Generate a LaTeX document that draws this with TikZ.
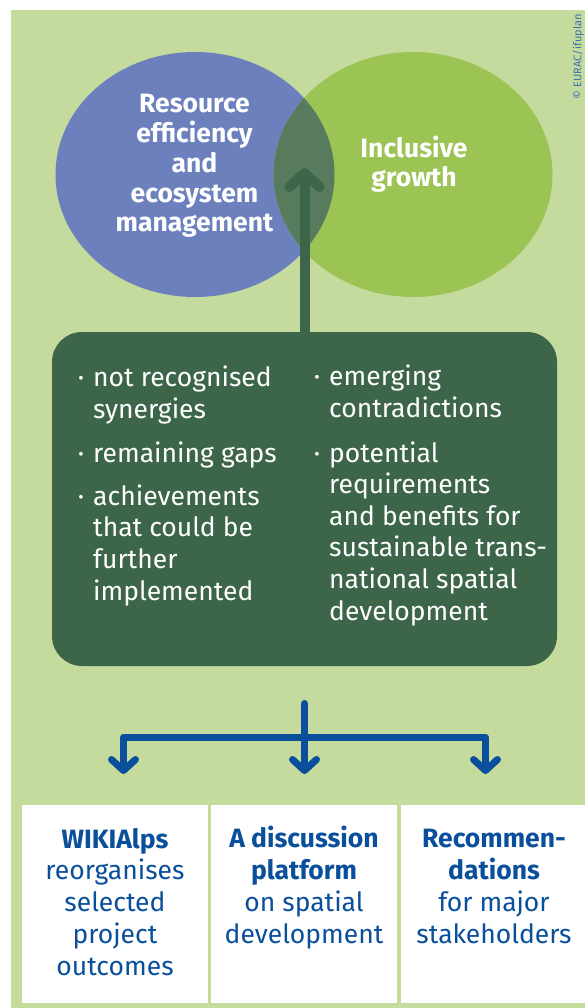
\documentclass[tikz,border=0pt]{standalone}
\usepackage{fontspec}
\setmainfont{Fira Sans}
\usetikzlibrary{positioning,shapes.geometric,arrows.meta}

\definecolor{paper}{HTML}{C5DB9D}
\definecolor{vennblue}{HTML}{6B80BD}
\definecolor{venngreen}{HTML}{9CC454}
\definecolor{vennmix}{HTML}{577B5C}
\definecolor{forest}{HTML}{3D6549}
\definecolor{navy}{HTML}{0A4F9B}

\tikzset{
	venn/.style={ellipse, inner sep=0, minimum width=279pt, minimum height=245pt},
	goal/.style={white, inner sep=0, anchor=base, align=center, font=\bfseries\fontsize{26.5}{29.8}\selectfont},
	item/.style={white, inner sep=0, anchor=base west, align=left, font=\fontsize{26.5}{31.6}\selectfont},
	bullet/.style={white, inner sep=0, anchor=base, font=\fontsize{26.5}{31.6}\selectfont},
	outcome/.style={fill=white, inner sep=0, minimum height=198pt},
	outtext/.style={navy, inner sep=0, anchor=base, align=center, font=\fontsize{26.5}{31.7}\selectfont},
	feed/.style={forest, line width=10pt, line cap=round, -{Straight Barb[round,length=14pt,width=30pt]}},
	flow/.style={navy, line width=7pt, line cap=round, line join=round},
	fork/.style={flow, -{Straight Barb[round,length=11pt,width=24pt]}}
}

\begin{document}
\begin{tikzpicture}[x=1pt, y=-1pt]
\useasboundingbox (0,0) rectangle (585,1008);
\fill[paper] (11,10) rectangle (585,1008);

% the two goals (base = last line)
\node[venn, fill=vennblue] (resource) at (195,174.5) {};
\node[venn, fill=venngreen] (growth) at (413,174.5) {};
\begin{scope}
\clip (resource.center) ellipse [x radius=139.5, y radius=122.5];
\fill[vennmix] (growth.center) ellipse [x radius=139.5, y radius=122.5];
\end{scope}
\node[goal] (resourcetext) at (194.5,232) {Resource\\efficiency\\and\\ecosystem\\management};
\node[goal] (growthtext) at (414,187) {Inclusive\\growth};

% findings
\node[fill=forest, rounded corners=30pt, minimum width=505pt, minimum height=334pt, inner sep=0] (issues) at (304.5,499) {};
\coordinate (feedtip) at (304.5,168);
\draw[feed] (issues.north) -- (feedtip);

\node[item] (synergies) at (93,418.2) {not recognised\\synergies};
\node[item] (gaps) at (93,462.5) {remaining gaps};
\node[item] (achieve) at (93,600) {achievements\\that could be\\further\\implemented};
\node[item] (contra) at (329,417) {emerging\\contradictions};
\node[item] (benefits) at (329,620) {potential\\requirements\\and benefits for\\sustainable trans-\\national spatial\\development};
\foreach \n/\x/\y in {a/81/386.5, b/81/462.5, c/81/505, d/317/385.5, e/317/462}
	\node[bullet] (dot\n) at (\x,\y) {·};

% outcomes
\node[outcome, minimum width=186pt] (wiki) at (115,904) {};
\node[outcome, minimum width=186pt] (forum) at (304,904) {};
\node[outcome, minimum width=184pt] (advice) at (493,904) {};

\coordinate (forktop) at (304.5,703.5);
\coordinate (forkbar) at (304.5,737);
\coordinate (tipwiki) at (123.5,774);
\coordinate (tipforum) at (304.5,774);
\coordinate (tipadvice) at (485.5,774);
\draw[fork] (forktop) -- (tipforum);
\draw[fork] (forkbar) -- (forkbar -| tipwiki) -- (tipwiki);
\draw[fork] (forkbar) -- (forkbar -| tipadvice) -- (tipadvice);

\node[outtext] (wikitext) at (115,975) {\textbf{WIKIAlps}\\reorganises\\selected\\project\\outcomes};
\node[outtext] (forumtext) at (304,943) {\textbf{A discussion}\\\textbf{platform}\\on spatial\\development};
\node[outtext] (advicetext) at (494,943) {\textbf{Recommen-}\\\textbf{dations}\\for major\\stakeholders};

\node[navy!80, rotate=90, anchor=south west, inner sep=0.5pt, font=\fontsize{11}{13}\selectfont] (credit) at (584.5,100) {© EURAC/ifuplan};
\end{tikzpicture}
\end{document}
